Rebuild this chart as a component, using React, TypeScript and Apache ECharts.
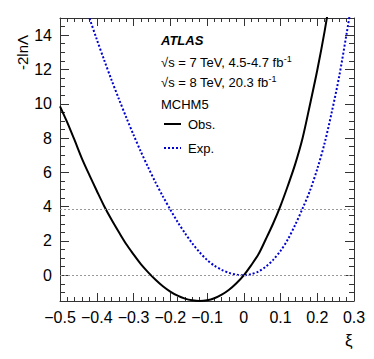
import React, { useEffect, useRef } from "react";
import * as echarts from "echarts";

const obsXi = [-0.5, -0.48, -0.46, -0.44, -0.42, -0.4, -0.38, -0.36, -0.34, -0.32, -0.3, -0.28, -0.26, -0.24, -0.22, -0.2, -0.18, -0.16, -0.14, -0.12, -0.1, -0.08, -0.06, -0.04, -0.02, 0, 0.02, 0.04, 0.06, 0.08, 0.1, 0.12, 0.14, 0.16, 0.18, 0.2, 0.22, 0.24];
const obsVal = [9.85, 8.9, 7.86, 6.79, 5.84, 4.93, 4.04, 3.25, 2.52, 1.82, 1.22, 0.65, 0.17, -0.26, -0.64, -0.95, -1.19, -1.36, -1.46, -1.5, -1.46, -1.34, -1.13, -0.84, -0.46, 0, 0.58, 1.22, 2.1, 3.02, 4.05, 5.22, 6.48, 7.99, 9.93, 11.95, 14.22, 16.8];

const expXi = [-0.44, -0.42, -0.4, -0.38, -0.36, -0.34, -0.32, -0.3, -0.28, -0.26, -0.24, -0.22, -0.2, -0.18, -0.16, -0.14, -0.12, -0.1, -0.08, -0.06, -0.04, -0.02, 0, 0.02, 0.04, 0.06, 0.08, 0.1, 0.12, 0.14, 0.16, 0.18, 0.2, 0.22, 0.24, 0.26, 0.28, 0.3];
const expVal = [16.3, 15.0, 13.76, 12.56, 11.4, 10.29, 9.22, 8.19, 7.21, 6.29, 5.41, 4.6, 3.84, 3.11, 2.46, 1.86, 1.34, 0.9, 0.56, 0.32, 0.14, 0.04, 0, 0.06, 0.22, 0.5, 0.9, 1.42, 2.09, 2.94, 3.89, 4.92, 6.2, 7.7, 9.56, 11.63, 14.1, 16.7];

const yMajorTicks = [0, 2, 4, 6, 8, 10, 12, 14];
const refLines = [0, 3.84];

const FONT = "'Liberation Sans', Arial, Helvetica, sans-serif";
const AX = "#333";

export default function App() {
  const ref = useRef<HTMLDivElement>(null);
  useEffect(() => {
    if (!ref.current) return;
    const chart = echarts.init(ref.current, null, { renderer: "svg" });
    const fmtX = (v: number) => {
      if (Math.abs(v) < 1e-9) return "0";
      return (v < 0 ? "\u2212" : "") + Math.abs(v).toFixed(1);
    };
    const xBase = {
      type: "value",
      min: -0.5,
      max: 0.3,
      interval: 0.1,
      axisLine: { show: true, onZero: false, lineStyle: { color: AX, width: 1 } },
      axisTick: { show: true, inside: true, length: 8, lineStyle: { color: AX } },
      minorTick: { show: true, splitNumber: 5, length: 4, lineStyle: { color: AX } },
      splitLine: { show: false },
      minorSplitLine: { show: false },
    };
    const yMinor = {
      type: "value",
      min: -1.5,
      max: 15,
      interval: 0.5,
      axisLine: { show: true, onZero: false, lineStyle: { color: AX, width: 1 } },
      axisTick: { show: true, inside: true, length: 5, lineStyle: { color: AX } },
      axisLabel: { show: false },
      splitLine: { show: false },
    };
    const yMajor = {
      type: "value",
      min: -1.5,
      max: 15,
      axisLine: { show: false, onZero: false },
      axisTick: { show: true, inside: true, length: 9, customValues: yMajorTicks, lineStyle: { color: AX } },
      splitLine: { show: false },
    };
    chart.setOption({
      animation: false,
      grid: { left: 60, top: 18, right: 20, bottom: 58 },
      xAxis: [
        {
          ...xBase,
          position: "bottom",
          axisLabel: { show: true, margin: 8, color: "#000", fontSize: 16, fontFamily: FONT, formatter: fmtX },
        },
        { ...xBase, position: "top", axisLabel: { show: false } },
      ],
      yAxis: [
        { ...yMinor, position: "left" },
        {
          ...yMajor,
          position: "left",
          axisLabel: { show: true, customValues: yMajorTicks, margin: 8, color: "#000", fontSize: 16, fontFamily: FONT },
        },
        { ...yMinor, position: "right" },
        { ...yMajor, position: "right", axisLabel: { show: false } },
      ],
      series: [
        {
          type: "line",
          name: "Exp.",
          xAxisIndex: 0,
          yAxisIndex: 0,
          data: expXi.map((x, i) => [x, expVal[i]]),
          showSymbol: false,
          smooth: 0.3,
          clip: true,
          lineStyle: { color: "#0000d0", width: 2, type: [2, 2] },
          z: 3,
        },
        {
          type: "line",
          name: "Obs.",
          xAxisIndex: 0,
          yAxisIndex: 0,
          data: obsXi.map((x, i) => [x, obsVal[i]]),
          showSymbol: false,
          smooth: 0.3,
          clip: true,
          lineStyle: { color: "#000", width: 2 },
          z: 4,
          markLine: {
            silent: true,
            symbol: "none",
            label: { show: false },
            lineStyle: { color: "#999", width: 1, type: [2, 2] },
            data: refLines.map((v) => ({ yAxis: v })),
          },
        },
      ],
      graphic: [
        {
          type: "text",
          x: 22,
          y: 70,
          rotation: Math.PI / 2,
          style: { text: "-2ln\u039B", fontSize: 15, fontFamily: FONT, fill: "#000", verticalAlign: "middle" },
        },
        {
          type: "text",
          x: 345,
          y: 340,
          style: { text: "\u03BE", fontSize: 17, fontFamily: FONT, fill: "#000", verticalAlign: "middle" },
        },
        {
          type: "text",
          x: 161,
          y: 40,
          style: { text: "ATLAS", fontSize: 13, fontWeight: "bold", fontStyle: "italic", fontFamily: FONT, fill: "#000", verticalAlign: "middle" },
        },
        {
          type: "text",
          x: 161,
          y: 62,
          style: {
            text: "{a|\u221As = 7 TeV, 4.5-4.7 fb}{s|-1}",
            fontFamily: FONT,
            fill: "#000",
            verticalAlign: "middle",
            rich: {
              a: { fontSize: 13, lineHeight: 16, fontFamily: FONT },
              s: { fontSize: 9, lineHeight: 9, verticalAlign: "top", fontFamily: FONT },
            },
          },
        },
        {
          type: "text",
          x: 161,
          y: 82,
          style: {
            text: "{a|\u221As = 8 TeV, 20.3 fb}{s|-1}",
            fontFamily: FONT,
            fill: "#000",
            verticalAlign: "middle",
            rich: {
              a: { fontSize: 13, lineHeight: 16, fontFamily: FONT },
              s: { fontSize: 9, lineHeight: 9, verticalAlign: "top", fontFamily: FONT },
            },
          },
        },
        {
          type: "text",
          x: 161,
          y: 104,
          style: { text: "MCHM5", fontSize: 13, fontFamily: FONT, fill: "#000", verticalAlign: "middle" },
        },
        {
          type: "line",
          shape: { x1: 164, y1: 124, x2: 181, y2: 124 },
          style: { stroke: "#000", lineWidth: 2 },
        },
        {
          type: "text",
          x: 188,
          y: 124,
          style: { text: "Obs.", fontSize: 13, fontFamily: FONT, fill: "#000", verticalAlign: "middle" },
        },
        {
          type: "line",
          shape: { x1: 164, y1: 148, x2: 181, y2: 148 },
          style: { stroke: "#0000d0", lineWidth: 2, lineDash: [2, 2] },
        },
        {
          type: "text",
          x: 188,
          y: 148,
          style: { text: "Exp.", fontSize: 13, fontFamily: FONT, fill: "#000", verticalAlign: "middle" },
        },
      ],
    });
    return () => chart.dispose();
  }, []);
  return (
    <div
      ref={ref}
      style={{ position: "fixed", left: 0, top: 0, width: 374, height: 359, background: "#fff" }}
    />
  );
}
